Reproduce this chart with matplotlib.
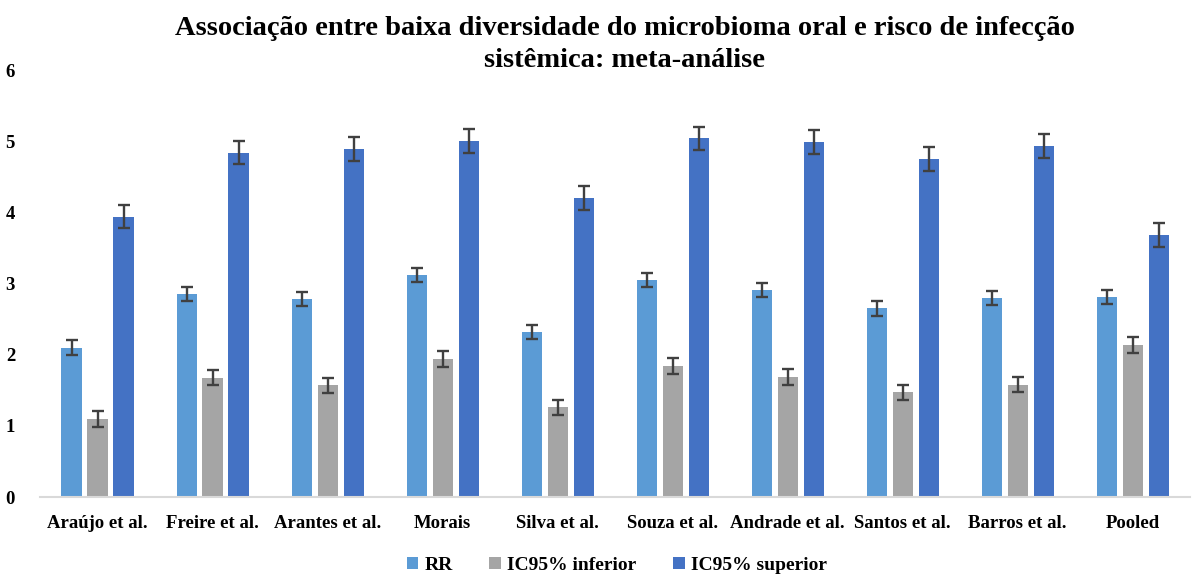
import numpy as np
import matplotlib
matplotlib.use("Agg")
import matplotlib.pyplot as plt

# Data
studies = ["Araújo et al.", "Freire et al.", "Arantes et al.", "Morais", "Silva et al.",
           "Souza et al.", "Andrade et al.", "Santos et al.", "Barros et al.", "Pooled"]
rr = [2.10, 2.85, 2.78, 3.12, 2.32, 3.05, 2.91, 2.65, 2.80, 2.81]
ic_inf = [1.10, 1.68, 1.57, 1.94, 1.26, 1.84, 1.69, 1.47, 1.58, 2.14]
ic_sup = [3.94, 4.84, 4.89, 5.00, 4.20, 5.04, 4.99, 4.75, 4.93, 3.68]
err_rr = 0.10
err_inf = 0.11
err_sup = 0.165

series_names = ["RR", "IC95% inferior", "IC95% superior"]
colors = ["#5B9BD5", "#A5A5A5", "#4472C4"]

plt.rcParams["font.family"] = ["Liberation Serif", "DejaVu Serif"]
plt.rcParams["font.weight"] = "bold"

fig = plt.figure(figsize=(11.95, 5.74), dpi=100)
ax = fig.add_axes([0.0335, 0.134, 0.9625, 0.744])

x = np.arange(len(studies))
width = 0.175
step = 0.226
errkw = dict(ecolor="#404040", elinewidth=1.7, capsize=4, capthick=1.7)
for i, (vals, err) in enumerate([(rr, err_rr), (ic_inf, err_inf), (ic_sup, err_sup)]):
    ax.bar(x + (i - 1) * step, vals, width, color=colors[i], label=series_names[i],
           yerr=err, error_kw=errkw, zorder=2)

ax.set_xlim(-0.5, len(studies) - 0.5)
ax.set_ylim(0, 6)
ax.set_yticks(range(0, 7))
ax.set_xticks(x)
ax.set_xticklabels(studies, fontsize=13.5, fontweight="bold")
ax.tick_params(axis="y", length=0, labelsize=13.5, pad=18)
ax.tick_params(axis="x", length=0, pad=13)
for lab in ax.get_yticklabels():
    lab.set_fontweight("bold")
for s in ["top", "right", "left"]:
    ax.spines[s].set_visible(False)
ax.spines["bottom"].set_color("#D9D9D9")
ax.spines["bottom"].set_linewidth(1.5)

fig.suptitle("Associação entre baixa diversidade do microbioma oral e risco de infecção\n"
             "sistêmica: meta-análise", fontsize=20.5, fontweight="bold", y=0.972,
             x=0.523, linespacing=1.35)

fig.legend(loc="lower center", ncol=3, bbox_to_anchor=(0.516, -0.03), frameon=False,
           handlelength=0.6, handleheight=0.6, handletextpad=0.3,
           columnspacing=1.9, prop={"weight": "bold", "size": 14})

fig.savefig("out.png", dpi=100)
